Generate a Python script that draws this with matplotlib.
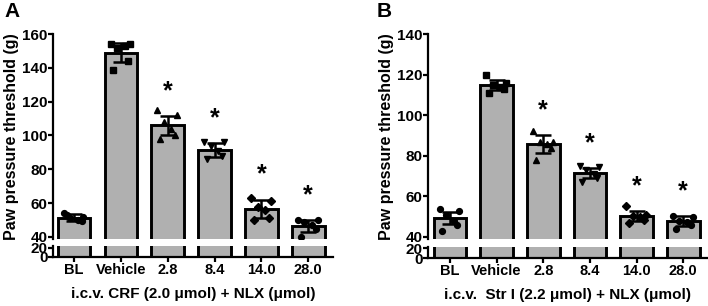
import matplotlib
matplotlib.use("Agg")
import matplotlib.pyplot as plt
import numpy as np

plt.rcParams['font.family'] = ['Liberation Sans', 'DejaVu Sans']
plt.rcParams['font.weight'] = 'bold'

categories = ["BL", "Vehicle", "2.8", "8.4", "14.0", "28.0"]
markers = ["o", "s", "^", "v", "D", "o"]

# Panel A: i.c.v. CRF + NLX
means_a = [51.5, 149.0, 106.0, 91.5, 56.5, 46.5]
sd_a = [2.0, 5.5, 5.5, 4.0, 5.5, 3.5]
points_a = [
    [54, 52, 51, 50, 49.5, 53],
    [154, 154, 152, 153, 144, 139],
    [115, 112, 108, 104, 100, 98],
    [96, 96, 94, 91, 88, 86],
    [63, 61, 58, 56, 51, 50],
    [50, 50, 49, 47, 45, 40],
]
sig_a = [False, False, True, True, True, True]

# Panel B: i.c.v. Str I + NLX
means_b = [49.4, 115.0, 85.8, 71.5, 50.3, 47.8]
sd_b = [3.0, 2.5, 4.5, 2.5, 2.5, 2.5]
points_b = [
    [54, 53, 51, 48, 46, 43],
    [120, 116, 115, 114, 113, 111],
    [92, 87, 87, 86, 84, 78],
    [75, 74.5, 73, 71, 69, 67],
    [55.5, 51, 50.5, 50, 48.5, 47],
    [50.5, 50, 48, 47.5, 46, 44],
]
sig_b = [False, False, True, True, True, True]

jitter = [-0.22, 0.2, -0.08, 0.08, 0.16, -0.16]

W, H = 708, 306
fig = plt.figure(figsize=(W / 100, H / 100), dpi=100)

def px_axes(x0, x1, ytop, ybot):
    return fig.add_axes([x0 / W, 1 - ybot / H, (x1 - x0) / W, (ybot - ytop) / H])

BAR_COLOR = "#b0b0b0"
LW = 2.1

def panel(x0, x1, up_top, up_bot, lo_top, lo_bot, ylim_up, ylim_lo, yticks,
          means, sds, points, sig, xlabel, ylabel, letter, xlim, ylab_x, letter_x):
    ax = px_axes(x0, x1, up_top, up_bot)
    axl = px_axes(x0, x1, lo_top, lo_bot)
    x = np.arange(len(categories))
    for a in (ax, axl):
        a.bar(x, means, width=0.7, color=BAR_COLOR, edgecolor="black",
              linewidth=LW, zorder=2)
        a.errorbar(x, means, yerr=sds, fmt="none", ecolor="black",
                   elinewidth=1.8, capsize=5.5, capthick=1.8, zorder=4)
        for i, pts in enumerate(points):
            a.plot(i + np.array(jitter[:len(pts)]), pts, linestyle="none",
                   marker=markers[i], color="black", markersize=4.2, zorder=3)
        a.set_xlim(*xlim)
        a.spines['right'].set_visible(False)
        for s in ('left', 'bottom', 'top'):
            a.spines[s].set_linewidth(1.6)
        a.tick_params(width=1.6, length=3.5, labelsize=11)
    ax.set_ylim(*ylim_up)
    axl.set_ylim(*ylim_lo)
    ax.spines['bottom'].set_visible(False)
    ax.spines['top'].set_visible(False)
    axl.spines['top'].set_visible(False)
    ax.set_xticks([])
    ax.set_yticks(yticks)
    ax.tick_params(axis='y', pad=0.5)
    axl.set_yticks([0, 20])
    axl.set_xticks(x)
    axl.set_xticklabels(categories, fontsize=10.5, fontweight='bold')
    axl.tick_params(axis='x', pad=1)
    axl.tick_params(axis='y', pad=0.5, labelsize=11)
    for lab in ax.get_yticklabels() + axl.get_yticklabels():
        lab.set_fontweight('bold')
    axl.set_xlabel(xlabel, fontsize=11, fontweight='bold', labelpad=7)
    for i, s in enumerate(sig):
        if s:
            ax.annotate("*", (i, means[i] + sds[i]), xytext=(0, 18),
                        textcoords="offset points", ha="center", va="center",
                        fontsize=18, fontweight="bold")
    fig.text(ylab_x / W, 1 - 137 / H, ylabel, rotation=90, ha="center", va="center",
             fontsize=11.5, fontweight="bold")
    fig.text(letter_x / W, 1 - 2 / H, letter, ha="left", va="top",
             fontsize=15, fontweight="bold")

panel(53, 333, 34, 239, 246, 257, (38.8, 160), (0, 24.4), [40, 60, 80, 100, 120, 140, 160],
      means_a, sd_a, points_a, sig_a, "i.c.v. CRF (2.0 μmol) + NLX (μmol)",
      "Paw pressure threshold (g)", "A", (-0.45, 5.53), 12, 4)
panel(428, 707, 34, 239, 247, 258, (39, 140), (0, 22), [40, 60, 80, 100, 120, 140],
      means_b, sd_b, points_b, sig_b, "i.c.v.  Str I (2.2 μmol) + NLX (μmol)",
      "Paw pressure threshold (g)", "B", (-0.47, 5.51), 386, 377)

fig.savefig("out.png", dpi=100)
